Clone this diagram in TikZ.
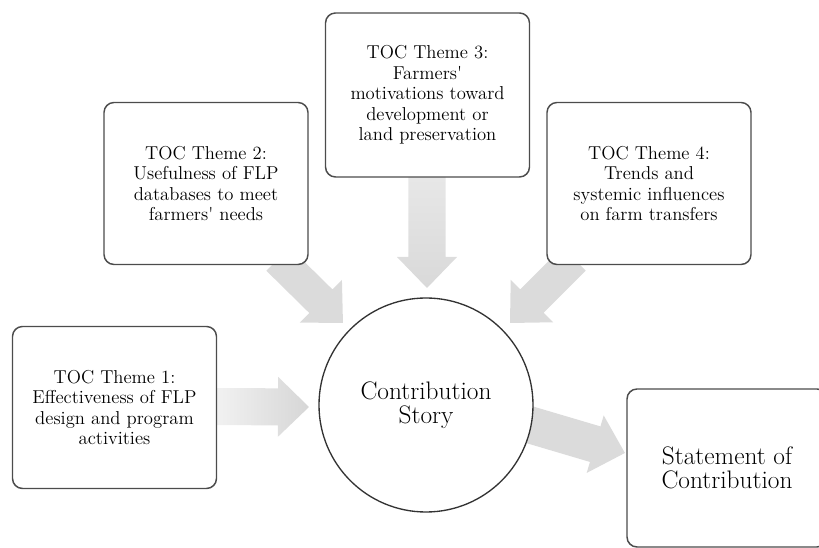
\documentclass[tikz,border=0pt]{standalone}
\usetikzlibrary{calc}
\tikzset{
  themebox/.style={draw=black!70, line width=1.1pt, rounded corners=7.5pt, fill=white,
    align=center, inner sep=0pt, minimum width=153pt, minimum height=121.5pt,
    font=\fontsize{14}{15.4}\selectfont},
  storycircle/.style={circle, draw=black!80, line width=1pt, fill=white, align=center,
    inner sep=0pt, minimum size=160.5pt, font=\fontsize{19}{17.6}\selectfont},
  resultbox/.style={draw=black!70, line width=1.1pt, rounded corners=7.5pt, fill=white,
    align=center, inner sep=0pt, minimum width=150pt, minimum height=118.5pt,
    font=\fontsize{19}{17.6}\selectfont},
  flatarrow/.style={fill=black!14},
}
% block arrow from #2 to #3, half shaft width #4 (pt)
\newcommand{\blockarrow}[4][flatarrow]{%
  \path[#1] let \p1=($(#3)-(#2)$), \n1={atan2(\y1,\x1)}, \n2={veclen(\x1,\y1)},
      \n3={\n2-23.25} in
    ([shift={(#2)},rotate=\n1]0pt,-#4pt)
    -- ([shift={(#2)},rotate=\n1]\n3,-#4pt)
    -- ([shift={(#2)},rotate=\n1]\n3,-22.5pt)
    -- ([shift={(#2)},rotate=\n1]\n2,0pt)
    -- ([shift={(#2)},rotate=\n1]\n3,22.5pt)
    -- ([shift={(#2)},rotate=\n1]\n3,#4pt)
    -- ([shift={(#2)},rotate=\n1]0pt,#4pt) -- cycle;}
\begin{document}
\begin{tikzpicture}[x=0.75pt,y=-0.75pt]
\useasboundingbox (0,0) rectangle (819,548);
% arrow end points
\coordinate (a1s) at (205,406.5); \coordinate (a1e) at (309,407);
\coordinate (a2s) at (278,259);   \coordinate (a2e) at (343,323);
\coordinate (a3s) at (427,170);   \coordinate (a3e) at (427,288);
\coordinate (a4s) at (574,259);   \coordinate (a4e) at (510,323);
\coordinate (a5s) at (500,416);   \coordinate (a5e) at (625,453);
% arrows
\blockarrow[left color=black!4, right color=black!16]{a1s}{a1e}{13.9}
\blockarrow{a2s}{a2e}{12.4}
\blockarrow[top color=black!9, bottom color=black!15]{a3s}{a3e}{13.9}
\blockarrow{a4s}{a4e}{12.4}
\blockarrow{a5s}{a5e}{13.9}
% boxes
\node[themebox] (t1) at (114.5,407.5) {TOC Theme 1:\\Effectiveness of FLP\\design and program\\activities};
\node[themebox] (t2) at (206,183.5) {TOC Theme 2:\\Usefulness of FLP\\databases to meet\\farmers\textquotesingle{} needs};
\node[themebox, minimum height=123pt] (t3) at (427.5,95) {TOC Theme 3:\\Farmers\textquotesingle\\motivations toward\\development or\\land preservation};
\node[themebox] (t4) at (649,183.5) {TOC Theme 4:\\Trends and\\systemic influences\\on farm transfers};
\node[storycircle] (cs) at (426,405) {Contribution\\Story};
\begin{scope}
  \clip (0,0) rectangle (819,548);
  \node[resultbox] (sc) at (727,468) {Statement of\\Contribution};
\end{scope}
\end{tikzpicture}
\end{document}
